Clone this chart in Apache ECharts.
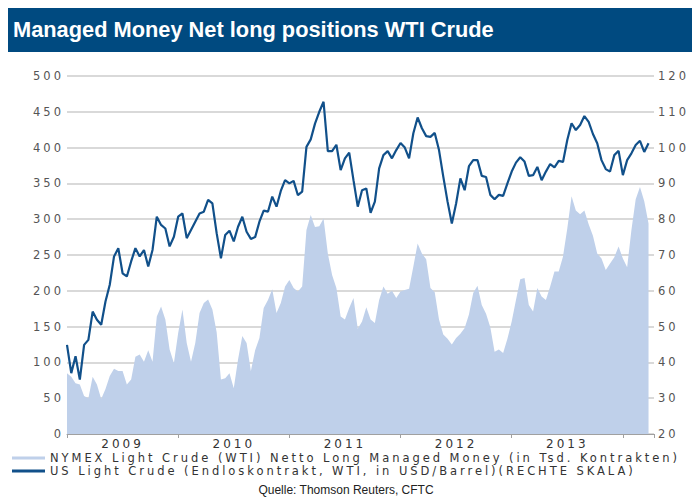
<!DOCTYPE html>
<html>
<head>
<meta charset="utf-8">
<script src="https://cdn.jsdelivr.net/npm/echarts@6/dist/echarts.min.js"></script>
<style>
  html, body { margin: 0; padding: 0; background: #fff; }
  #chart { width: 692px; height: 501px; }
  #chart text[style*="DejaVu"] { letter-spacing: 3px; }
  #chart text[style*="Verdana"] { letter-spacing: 2.95px; }
</style>
</head>
<body>
<div id="chart"></div>
<script>
// Two-week sampling starting January 2009
const START_YEAR = 2009;
const STEP_YEARS = 1 / 26;

// NYMEX Light Crude (WTI) managed money net long (thousand contracts)
const netLong = [
  85, 80, 71, 69, 53, 50, 80, 69, 49, 63, 81, 91, 88, 88, 69, 76, 108, 111, 101, 117,
  101, 164, 178, 160, 118, 99, 141, 174, 127, 101, 127, 169, 183, 188, 174, 142, 76, 78, 85, 64,
  104, 137, 127, 88, 117, 134, 176, 187, 202, 169, 183, 206, 215, 204, 199, 206, 285, 306, 289, 290,
  301, 252, 222, 204, 164, 160, 176, 190, 147, 157, 177, 160, 155, 187, 206, 196, 200, 190, 199, 201,
  203, 234, 266, 252, 244, 204, 198, 160, 139, 133, 125, 134, 140, 148, 167, 197, 207, 180, 168, 149,
  115, 118, 113, 133, 157, 187, 216, 218, 180, 171, 204, 192, 187, 206, 227, 227, 248, 287, 332, 312,
  307, 312, 293, 277, 252, 245, 229, 238, 247, 262, 245, 233, 285, 328, 345, 325, 294
];

// US Light Crude continuous contract, USD/barrel (right scale)
const wtiPrice = [
  44.9, 37.0, 41.7, 35.2, 44.9, 46.3, 54.2, 51.9, 50.5, 57.0, 61.7, 69.6, 71.9, 64.9, 64.0, 68.2, 71.9, 69.6, 71.4, 66.8,
  71.4, 80.7, 78.4, 77.4, 72.4, 75.1, 80.7, 81.6, 74.7, 77.0, 79.3, 81.6, 82.1, 85.4, 84.4, 76.1, 69.1, 75.6, 76.8, 73.8,
  77.9, 80.7, 76.5, 74.5, 75.0, 79.3, 82.4, 82.1, 86.3, 83.5, 87.9, 90.9, 90.0, 90.7, 86.7, 87.7, 100.2, 102.3, 106.7, 110.0,
  112.8, 99.0, 99.0, 100.8, 93.7, 97.0, 98.6, 90.9, 83.5, 88.1, 88.6, 81.8, 84.9, 94.2, 97.9, 99.0, 97.0, 99.3, 101.3, 100.0,
  97.0, 104.0, 108.4, 105.4, 103.2, 103.0, 104.1, 99.3, 91.9, 84.9, 78.8, 84.4, 91.4, 88.1, 94.8, 96.5, 96.5, 92.1, 91.8, 86.8,
  85.6, 86.8, 86.5, 90.0, 93.3, 95.8, 97.3, 96.1, 92.1, 92.3, 94.6, 90.9, 93.3, 95.4, 94.5, 96.3, 96.0, 102.1, 106.8, 104.9,
  106.3, 108.8, 107.2, 103.8, 101.2, 96.5, 94.0, 93.3, 97.9, 99.1, 92.3, 96.5, 98.4, 100.7, 101.9, 98.8, 101.2
];

const yearLabels = ['2009', '2010', '2011', '2012', '2013'];
const seriesNames = [
  'NYMEX Light Crude (WTI) Netto Long Managed Money (in Tsd. Kontrakten)',
  'US Light Crude (Endloskontrakt, WTI, in USD/Barrel)(RECHTE SKALA)'
];
const titleText = 'Managed Money Net long positions WTI Crude';
const sourceText = 'Quelle: Thomson Reuters, CFTC';

const X_MAX = 2014.28;

const netData = netLong.map((v, i) => [START_YEAR + i * STEP_YEARS, v]);
const priceData = wtiPrice.map((v, i) => [START_YEAR + i * STEP_YEARS, v]);

const chart = echarts.init(document.getElementById('chart'), null, { renderer: 'svg' });

const axisLabelFont = 'DejaVu Sans';
const narrowFont = 'Liberation Sans Narrow, Liberation Sans, sans-serif';

chart.setOption({
  animation: false,
  backgroundColor: '#ffffff',
  graphic: [{
    type: 'rect',
    left: 8, top: 8,
    shape: { width: 684, height: 44 },
    style: { fill: '#004a80' },
    z: 0
  }],
  title: [{
    text: titleText,
    left: 13, top: 18,
    padding: 0,
    z: 10,
    textStyle: { color: '#ffffff', fontSize: 21.8, fontWeight: 'bold', fontFamily: narrowFont }
  }, {
    text: sourceText,
    left: 'center', top: 484,
    padding: 0,
    textStyle: { color: '#222222', fontSize: 12, fontWeight: 'normal', fontFamily: narrowFont }
  }],
  legend: {
    orient: 'vertical',
    left: 12, top: 452,
    itemWidth: 33, itemHeight: 3,
    itemGap: 1,
    icon: 'rect',
    padding: 0,
    textStyle: { color: '#333333', fontSize: 11.5, lineHeight: 11, fontFamily: 'Verdana, DejaVu Sans' },
    data: seriesNames
  },
  grid: { left: 67, right: 38, top: 76, bottom: 67 },
  xAxis: [{
    type: 'value',
    min: START_YEAR, max: X_MAX, interval: 1,
    position: 'bottom',
    axisLine: { show: true, lineStyle: { color: '#a0a0a0', width: 1 } },
    axisTick: { show: true, length: 4, lineStyle: { color: '#a0a0a0' } },
    axisLabel: { show: false },
    splitLine: { show: false }
  }, {
    // half-year units: labels centred in each calendar year
    type: 'value',
    min: 0, max: (X_MAX - START_YEAR) * 2, interval: 1,
    position: 'bottom',
    axisLine: { show: false },
    axisTick: { show: false },
    splitLine: { show: false },
    axisLabel: {
      show: true,
      margin: 4,
      color: '#333333',
      fontSize: 12,
      fontFamily: axisLabelFont,
      formatter: v => (v % 2 === 1 ? (yearLabels[(v - 1) / 2] || '') : '')
    }
  }],
  yAxis: [{
    type: 'value',
    min: 0, max: 500, interval: 50,
    position: 'left',
    axisLine: { show: false },
    axisTick: { show: false },
    axisLabel: { margin: 3, color: '#555555', fontSize: 11.5, fontFamily: axisLabelFont },
    splitLine: { show: true, lineStyle: { color: '#cccccc', width: 1.5 } }
  }, {
    type: 'value',
    min: 20, max: 120, interval: 10,
    position: 'right',
    axisLine: { show: false },
    axisTick: { show: false },
    axisLabel: { margin: 4, color: '#555555', fontSize: 11.5, fontFamily: axisLabelFont },
    splitLine: { show: false }
  }],
  series: [{
    name: seriesNames[0],
    type: 'line',
    xAxisIndex: 0, yAxisIndex: 0,
    data: netData,
    symbol: 'none',
    lineStyle: { width: 0, color: '#bfd0ea' },
    itemStyle: { color: '#bfd0ea' },
    areaStyle: { color: '#bfd0ea', opacity: 1 },
    z: 2
  }, {
    name: seriesNames[1],
    type: 'line',
    xAxisIndex: 0, yAxisIndex: 1,
    data: priceData,
    symbol: 'none',
    lineStyle: { width: 2.2, color: '#11508a' },
    itemStyle: { color: '#11508a' },
    z: 3
  }]
});
</script>
</body>
</html>
